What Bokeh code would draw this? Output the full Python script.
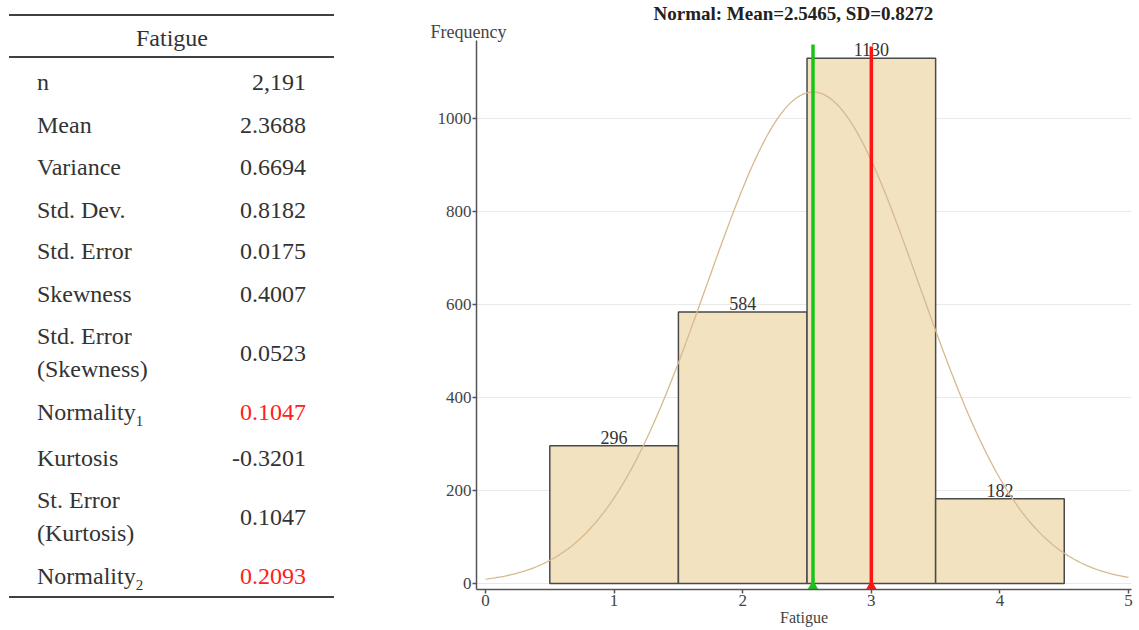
import numpy as np
from bokeh.plotting import figure
from bokeh.layouts import row
from bokeh.models import Range1d, FixedTicker, Title, Div
from bokeh.core.properties import value
from bokeh.embed import file_html
from bokeh.resources import INLINE

# ---------------- data ----------------
table_title = "Fatigue"
stat_labels = ["n", "Mean", "Variance", "Std. Dev.", "Std. Error", "Skewness",
               "Std. Error|(Skewness)", "Normality_1", "Kurtosis",
               "St. Error|(Kurtosis)", "Normality_2"]
stat_values = ["2,191", "2.3688", "0.6694", "0.8182", "0.0175", "0.4007",
               "0.0523", "0.1047", "-0.3201", "0.1047", "0.2093"]
stat_highlight = [False, False, False, False, False, False, False, True, False, False, True]

bin_centers = [1, 2, 3, 4]
bin_counts = [296, 584, 1130, 182]
bin_width = 1.0
fit_mean = 2.5465
fit_sd = 0.8272
median_value = 3.0
x_ticks = [0, 1, 2, 3, 4, 5]
y_ticks = [0, 200, 400, 600, 800, 1000]
chart_title = "Normal: Mean=2.5465, SD=0.8272"
x_label = "Fatigue"
y_label = "Frequency"

FONT = "Liberation Serif"
DARK = "#333333"
H = 628
TW = 391

# ---------------- left: statistics table (HTML) ----------------
row_y = [77, 120, 162, 205, 246, 289, 348, 407, 453, 512, 571]
rule_y = [9, 51, 591]


def fmt_label(s):
    if "|" in s:
        return s.replace("|", "<br>")
    if "_" in s:
        base, sub = s.split("_")
        return f'{base}<span style="font-size:15px;position:relative;top:6px">{sub}</span>'
    return s


parts = [f'<div style="position:relative;width:{TW}px;height:{H}px;font-family:\'{FONT}\',serif;'
         f'font-size:24px;color:{DARK};">']
for ry in rule_y:
    parts.append(f'<div style="position:absolute;left:4px;top:{ry}px;width:325px;height:0;'
                 f'border-top:2px solid #404040;"></div>')
parts.append(f'<div style="position:absolute;left:0;width:334px;top:18px;height:30px;line-height:30px;'
             f'text-align:center;">{table_title}</div>')
for lab, val, hi, yc in zip(stat_labels, stat_values, stat_highlight, row_y):
    two = "|" in lab
    h = 66 if two else 30
    lh = 33 if two else 30
    parts.append(f'<div style="position:absolute;left:32px;top:{yc - h // 2}px;height:{h}px;'
                 f'line-height:{lh}px;white-space:nowrap;">{fmt_label(lab)}</div>')
    col = "#ff2020" if hi else DARK
    parts.append(f'<div style="position:absolute;right:90px;top:{yc - 15}px;height:30px;'
                 f'line-height:30px;text-align:right;color:{col};white-space:nowrap;">{val}</div>')
parts.append('</div>')
table = Div(text="".join(parts), width=TW, height=H)

# ---------------- right: histogram ----------------
p = figure(width=1123 - TW, height=H, x_range=Range1d(-0.07, 5.023), y_range=Range1d(-13.0, 1168.0),
           output_backend="svg", toolbar_location=None, title=None,
           min_border_left=75, min_border_right=2, min_border_top=40, min_border_bottom=38)
p.outline_line_color = None
p.xgrid.visible = False
p.ygrid.grid_line_color = "#e9e9e9"
p.ygrid.ticker = FixedTicker(ticks=y_ticks)
p.xaxis.ticker = FixedTicker(ticks=x_ticks)
p.yaxis.ticker = FixedTicker(ticks=y_ticks)
for ax in (p.xaxis, p.yaxis):
    ax.axis_line_color = "#555555"
    ax.axis_line_width = 1.5
    ax.major_tick_line_color = "#555555"
    ax.major_tick_line_width = 1.5
    ax.major_tick_in = 0
    ax.major_tick_out = 4
    ax.minor_tick_line_color = None
    ax.major_label_text_font = FONT
    ax.major_label_text_font_size = "17px"
    ax.major_label_text_color = "#444444"
    ax.major_label_standoff = 1
p.xaxis.axis_label = x_label
p.xaxis.axis_label_text_font = FONT
p.xaxis.axis_label_text_font_size = "16px"
p.xaxis.axis_label_text_font_style = "normal"
p.xaxis.axis_label_text_color = "#444444"
p.xaxis.axis_label_standoff = 0

lefts = [c - bin_width / 2 for c in bin_centers]
rights = [c + bin_width / 2 for c in bin_centers]
p.quad(left=lefts, right=rights, bottom=0, top=bin_counts,
       fill_color="#f3e2bf", line_color="#4a4a4a", line_width=1.5)

p.text(x=bin_centers, y=bin_counts, text=[str(v) for v in bin_counts], text_font=value(FONT),
       text_font_size="18px", text_align="center", text_baseline="bottom", text_color=DARK,
       y_offset=-2)

cx = np.linspace(0, 5, 251)
cy = sum(bin_counts) * bin_width * np.exp(-0.5 * ((cx - fit_mean) / fit_sd) ** 2) / (fit_sd * np.sqrt(2 * np.pi))
p.line(cx, cy, line_color="#d7b98e", line_width=1.3)

p.segment(x0=[fit_mean], y0=[-10], x1=[fit_mean], y1=[1159.5], line_color="#19c419", line_width=3.5)
p.segment(x0=[median_value], y0=[-10], x1=[median_value], y1=[1155], line_color="#ff1414", line_width=3.5)
p.scatter(x=[fit_mean], y=[-11], marker="triangle", size=13, fill_color="#19c419", line_color="#19c419")
p.scatter(x=[median_value], y=[-11], marker="triangle", size=13, fill_color="#ff1414", line_color="#ff1414")

freq_title = Title(text=y_label, align="left", offset=-46, text_font=FONT, text_font_size="18px",
                   text_font_style="normal", text_color="#444444", standoff=-2)
main_title = Title(text=chart_title, align="left", offset=177, text_font=FONT, text_font_size="19px",
                   text_font_style="bold", text_color="#222222", standoff=-7)
p.add_layout(freq_title, "above")
p.add_layout(main_title, "above")

layout = row(table, p)
open("out.html", "w").write(file_html(layout, INLINE))
